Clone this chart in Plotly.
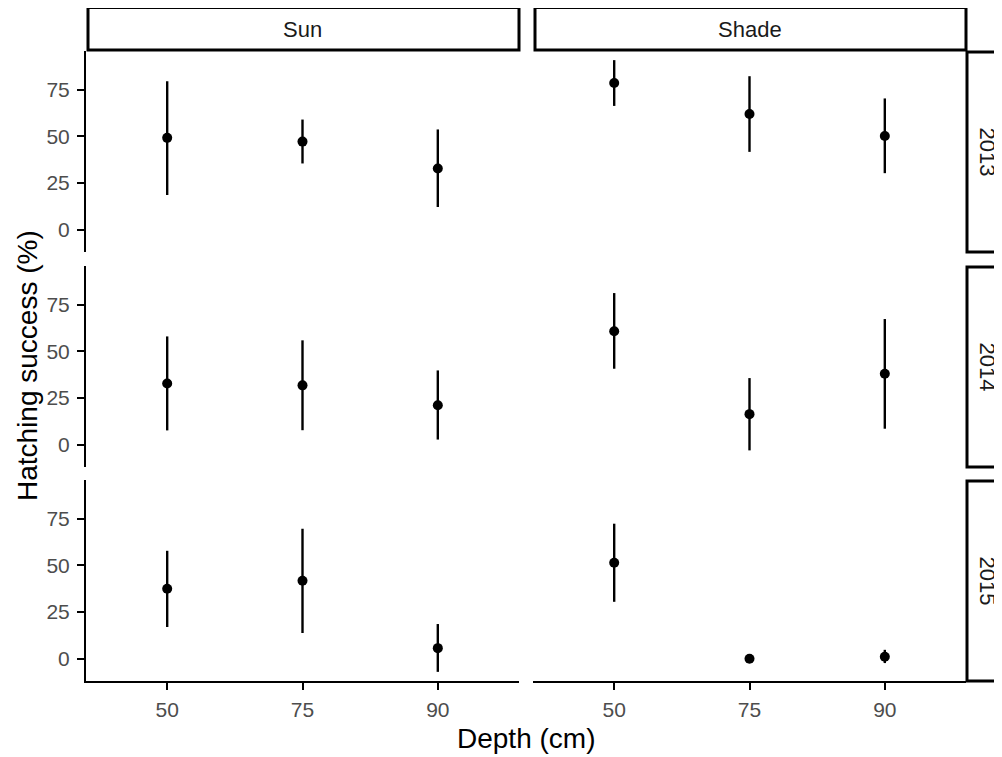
import plotly.graph_objects as go

# ---- data ----
depths = ["50", "75", "90"]
sites = ["Sun", "Shade"]
years = ["2013", "2014", "2015"]

sun_2013_mean = [49.2, 47.2, 32.8]
sun_2013_lo = [18.6, 35.5, 12.2]
sun_2013_hi = [79.5, 59.0, 53.7]

shade_2013_mean = [78.6, 62.0, 50.2]
shade_2013_lo = [66.3, 41.7, 30.3]
shade_2013_hi = [90.8, 82.2, 70.3]

sun_2014_mean = [32.8, 31.8, 21.2]
sun_2014_lo = [7.7, 7.8, 2.8]
sun_2014_hi = [58.0, 55.9, 39.8]

shade_2014_mean = [60.8, 16.4, 38.0]
shade_2014_lo = [40.7, -3.0, 8.6]
shade_2014_hi = [81.2, 35.7, 67.3]

sun_2015_mean = [37.5, 41.8, 5.7]
sun_2015_lo = [17.0, 13.8, -7.0]
sun_2015_hi = [57.8, 69.6, 18.6]

shade_2015_mean = [51.4, 0.0, 1.1]
shade_2015_lo = [30.5, 0.0, -2.3]
shade_2015_hi = [72.3, 0.0, 4.8]

y_ticks = [0, 25, 50, 75]

panels = {
    ("2013", "Sun"): (sun_2013_mean, sun_2013_lo, sun_2013_hi),
    ("2013", "Shade"): (shade_2013_mean, shade_2013_lo, shade_2013_hi),
    ("2014", "Sun"): (sun_2014_mean, sun_2014_lo, sun_2014_hi),
    ("2014", "Shade"): (shade_2014_mean, shade_2014_lo, shade_2014_hi),
    ("2015", "Sun"): (sun_2015_mean, sun_2015_lo, sun_2015_hi),
    ("2015", "Shade"): (shade_2015_mean, shade_2015_lo, shade_2015_hi),
}

# ---- layout geometry (pixels in the 1002x757 window) ----
OFF = 8                      # default page body margin
W, H = 1002 - OFF, 757 - OFF
col_px = [(86, 519), (533, 966)]
row_px = [(51, 252), (266, 467), (480, 681)]


def fx(p):
    return (p - OFF) / W


def fy(p):
    return 1 - (p - OFF) / H


# y range: data extent expanded by 5%
all_lo = min(min(v[1]) for v in panels.values())
all_hi = max(max(v[2]) for v in panels.values())
pad = (all_hi - all_lo) * 0.05
y_range = [all_lo - pad, all_hi + pad]

FONT = "Liberation Sans, Arial, Helvetica, sans-serif"

fig = go.Figure()
layout = dict(
    width=W, height=H,
    margin=dict(l=0, r=0, t=0, b=0),
    paper_bgcolor="white", plot_bgcolor="white",
    showlegend=False,
    font=dict(family=FONT, color="black"),
)

for r, yr in enumerate(years):
    for c, site in enumerate(sites):
        idx = r * 2 + c + 1
        sfx = "" if idx == 1 else str(idx)
        mean, lo, hi = panels[(yr, site)]
        fig.add_trace(go.Scatter(
            x=depths, y=mean, mode="markers",
            marker=dict(color="black", size=10),
            error_y=dict(type="data", symmetric=False,
                         array=[h - m for h, m in zip(hi, mean)],
                         arrayminus=[m - l for m, l in zip(mean, lo)],
                         thickness=2.4, width=0, color="black"),
            xaxis="x" + sfx, yaxis="y" + sfx, hoverinfo="skip",
        ))
        bottom = (r == 2)
        left = (c == 0)
        layout["xaxis" + sfx] = dict(
            domain=[fx(col_px[c][0]), fx(col_px[c][1])],
            anchor="y" + sfx, type="category",
            categoryorder="array", categoryarray=depths,
            range=[-0.6, 2.6],
            showgrid=False, zeroline=False,
            showline=bottom, linecolor="black", linewidth=2,
            ticks="outside" if bottom else "", ticklen=7, tickwidth=1.8, tickcolor="black",
            showticklabels=bottom, ticklabelstandoff=2,
            tickfont=dict(size=21, color="#4D4D4D", family=FONT),
            fixedrange=True,
        )
        layout["yaxis" + sfx] = dict(
            domain=[fy(row_px[r][1]), fy(row_px[r][0])],
            anchor="x" + sfx, range=y_range,
            tickvals=y_ticks,
            showgrid=False, zeroline=False,
            showline=left, linecolor="black", linewidth=2,
            ticks="outside" if left else "", ticklen=7, tickwidth=1.8, tickcolor="black",
            showticklabels=left, ticklabelstandoff=3,
            tickfont=dict(size=21, color="#4D4D4D", family=FONT),
            fixedrange=True,
        )

shapes = []
annotations = []
# top strips
for c, site in enumerate(sites):
    x0, x1 = col_px[c]
    shapes.append(dict(type="rect", xref="paper", yref="paper",
                       x0=fx(x0 + 2), x1=fx(x1), y0=fy(50), y1=fy(7.5),
                       line=dict(color="black", width=3), fillcolor="white"))
    annotations.append(dict(text=site, xref="paper", yref="paper",
                            x=fx((x0 + x1) / 2), y=fy(29), showarrow=False,
                            xanchor="center", yanchor="middle",
                            font=dict(size=22, color="#1A1A1A", family=FONT)))
# right strips
for r, yr in enumerate(years):
    y0, y1 = row_px[r]
    shapes.append(dict(type="rect", xref="paper", yref="paper",
                       x0=fx(967), x1=fx(1015), y0=fy(y1), y1=fy(y0 + 1),
                       line=dict(color="black", width=3), fillcolor="white"))
    annotations.append(dict(text=yr, xref="paper", yref="paper",
                            x=fx(987), y=fy((y0 + y1) / 2), showarrow=False,
                            textangle=90, xanchor="center", yanchor="middle",
                            font=dict(size=22, color="#1A1A1A", family=FONT)))

# axis titles
annotations.append(dict(text="Depth (cm)", xref="paper", yref="paper",
                        x=fx(526), y=fy(738), showarrow=False,
                        xanchor="center", yanchor="middle",
                        font=dict(size=28, color="black", family=FONT)))
annotations.append(dict(text="Hatching success (%)", xref="paper", yref="paper",
                        x=fx(28), y=fy(366), showarrow=False, textangle=-90,
                        xanchor="center", yanchor="middle",
                        font=dict(size=28, color="black", family=FONT)))

layout["shapes"] = shapes
layout["annotations"] = annotations
fig.update_layout(**layout)
fig.write_html("out.html")
